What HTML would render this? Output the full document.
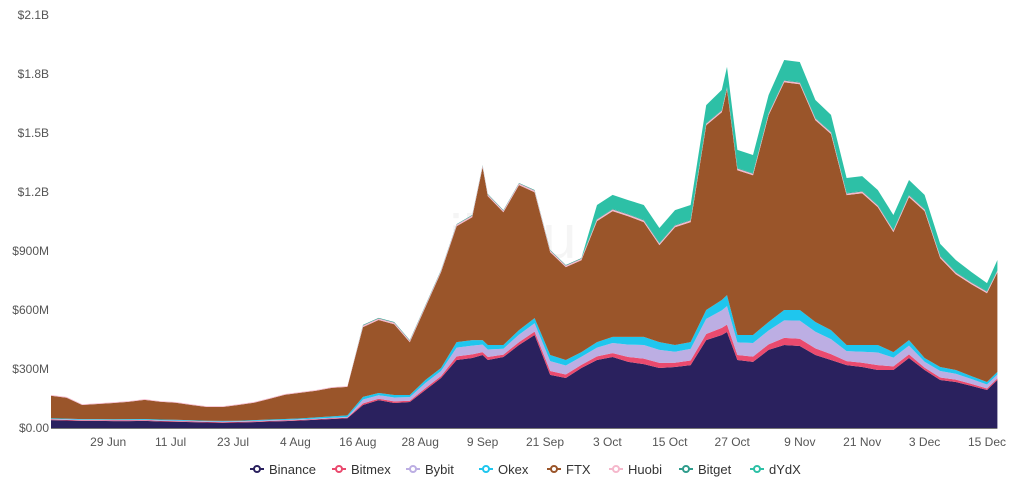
<!DOCTYPE html>
<html><head><meta charset="utf-8"><style>
html,body{margin:0;padding:0;background:#fff;}
svg{display:block;font-family:"Liberation Sans",sans-serif;}
</style></head><body>
<svg id="chart" width="1024" height="488" viewBox="0 0 1024 488" xmlns="http://www.w3.org/2000/svg">
<text x="580" y="258" font-size="62" fill="#000" fill-opacity="0.04" text-anchor="middle">jiasu.com</text>
<g id="areas"></g><g id="yaxis"></g><g id="xaxis"></g><g id="legend"></g>
</svg>
<script>
const days=[0,3,6,9,12,15,18,21,24,27,30,33,36,39,42,45,48,51,54,57,60,63,66,69,72,75,78,81,83,84,87,90,93,96,99,102,105,108,111,114,117,120,123,126,129,130,132,135,138,141,144,147,150,153,156,159,162,165,168,171,174,177,180,182];
const binance=[40,38,36,36,35,35,36,33,32,30,28,27,28,30,33,35,38,42,46,50,117,142,127,132,193,254,346,356,371,346,361,422,473,270,254,305,346,361,336,325,305,310,320,447,473,488,346,336,397,422,417,371,346,320,310,295,295,356,295,244,234,214,193,244];
const bitmex=[3,3,3,3,3,3,3,3,3,3,3,3,3,3,3,3,3,3,3,3,8,7,8,7,10,10,18,18,15,15,12,15,17,20,18,16,18,20,25,28,26,22,23,31,36,38,25,27,28,36,37,34,30,20,22,25,18,18,12,13,12,10,8,8];
const bybit=[3,3,3,3,3,3,3,3,3,3,3,3,3,3,3,3,3,3,3,3,20,18,20,18,26,26,45,45,38,38,30,38,43,50,46,41,45,51,63,69,66,56,59,77,89,94,64,69,71,89,92,84,76,51,56,64,45,45,30,33,30,25,20,20];
const okex=[4,4,3,3,3,4,4,4,4,3,3,3,3,4,4,5,5,6,7,8,13,11,13,11,15,15,28,28,23,23,19,23,26,31,28,24,28,31,39,41,40,34,35,45,53,56,38,41,43,53,54,50,46,31,34,38,28,28,19,20,19,15,13,13];
const ftx=[114,106,72,77,83,88,97,90,86,78,70,71,80,88,105,123,130,135,145,145,355,371,360,268,370,487,589,625,879,757,675,737,640,523,472,467,615,640,614,584,493,599,610,939,955,1047,838,812,1051,1158,1148,1026,997,762,772,701,610,727,747,554,487,467,451,507];
const huobi=[4,4,4,4,4,4,4,4,4,4,4,4,4,4,4,4,4,4,4,4,8,8,8,8,8,8,8,8,8,8,8,8,8,8,8,8,8,8,8,8,8,8,8,8,8,8,8,8,8,8,8,8,8,8,8,8,8,8,8,8,8,8,8,8];
const bitget=[0,0,0,0,0,0,0,0,0,0,0,0,0,0,0,0,0,0,0,0,3,3,3,3,3,3,3,3,3,3,3,3,3,3,3,3,3,3,3,3,3,3,3,3,3,3,3,3,3,3,3,3,3,3,3,3,3,3,3,3,3,3,3,3];
const dydx=[0,0,0,0,0,0,0,0,0,0,0,0,0,0,0,0,0,0,0,0,0,0,0,0,0,0,0,0,0,0,0,0,0,0,0,0,71,71,71,76,76,76,76,92,102,102,92,92,92,102,102,92,86,76,76,76,76,76,71,61,61,51,41,51];
const seriesNames=["Binance","Bitmex","Bybit","Okex","FTX","Huobi","Bitget","dYdX"];
const colors=["#2a215e","#ea4a6e","#bcaee3","#1fc6ee","#9a552a","#f5b8cc","#2f9c8c","#2dc0a6"];
const yTicks=[0,300,600,900,1200,1500,1800,2100];
const yTickLabels=["$0.00","$300M","$600M","$900M","$1.2B","$1.5B","$1.8B","$2.1B"];
const xTickDays=[11,23,35,47,59,71,83,95,107,119,131,144,156,168,180];
const xTickLabels=["29 Jun","11 Jul","23 Jul","4 Aug","16 Aug","28 Aug","9 Sep","21 Sep","3 Oct","15 Oct","27 Oct","9 Nov","21 Nov","3 Dec","15 Dec"];

const NS="http://www.w3.org/2000/svg";
const X0=51,X1=997.4,Y0=428,YTOP=15,DMAX=182,VMAX=2100;
const xs=d=>X0+(d/DMAX)*(X1-X0);
const ys=v=>Y0-(v/VMAX)*(Y0-YTOP);
const all=[binance,bitmex,bybit,okex,ftx,huobi,bitget,dydx];
const areas=document.getElementById('areas');
let base=days.map(()=>0);
all.forEach((s,k)=>{
  const top=base.map((b,i)=>b+s[i]);
  let d="M"+days.map((dd,i)=>xs(dd).toFixed(1)+","+ys(top[i]).toFixed(1)).join("L");
  for(let i=days.length-1;i>=0;i--) d+="L"+xs(days[i]).toFixed(1)+","+ys(base[i]).toFixed(1);
  d+="Z";
  const p=document.createElementNS(NS,'path');
  p.setAttribute('d',d);p.setAttribute('fill',colors[k]);
  
  
  areas.appendChild(p);
  base=top;
});
const ya=document.getElementById('yaxis');
yTicks.forEach((v,i)=>{
  const t=document.createElementNS(NS,'text');
  t.setAttribute('x',49);t.setAttribute('y',ys(v)+4);t.setAttribute('text-anchor','end');
  t.setAttribute('font-size','12');t.setAttribute('fill','#555');
  
  
  t.textContent=yTickLabels[i];ya.appendChild(t);
});
const xa=document.getElementById('xaxis');
const ax=document.createElementNS(NS,'line');
ax.setAttribute('x1',X0);ax.setAttribute('x2',X1);ax.setAttribute('y1',Y0+0.5);ax.setAttribute('y2',Y0+0.5);
ax.setAttribute('stroke','#777');ax.setAttribute('stroke-width','1');


xa.appendChild(ax);
xTickDays.forEach((d,i)=>{
  const t=document.createElementNS(NS,'text');
  t.setAttribute('x',xs(d));t.setAttribute('y',446);t.setAttribute('text-anchor','middle');
  t.setAttribute('font-size','12');t.setAttribute('fill','#555');
  
  
  t.textContent=xTickLabels[i];xa.appendChild(t);
});
const lg=document.getElementById('legend');
const lx=[250,332,406,479,547,609,679,750];
seriesNames.forEach((n,i)=>{
  const g=document.createElementNS(NS,'g');
  
  
  const l=document.createElementNS(NS,'line');
  l.setAttribute('x1',lx[i]);l.setAttribute('x2',lx[i]+14);l.setAttribute('y1',469);l.setAttribute('y2',469);
  l.setAttribute('stroke',colors[i]);l.setAttribute('stroke-width','2');g.appendChild(l);
  const c=document.createElementNS(NS,'circle');
  c.setAttribute('cx',lx[i]+7);c.setAttribute('cy',469);c.setAttribute('r',3);
  c.setAttribute('fill','#fff');c.setAttribute('stroke',colors[i]);c.setAttribute('stroke-width','2');g.appendChild(c);
  const t=document.createElementNS(NS,'text');
  t.setAttribute('x',lx[i]+19);t.setAttribute('y',474);t.setAttribute('font-size','13');t.setAttribute('fill','#333');
  t.textContent=n;g.appendChild(t);
  lg.appendChild(g);
});
</script>
</body></html>
